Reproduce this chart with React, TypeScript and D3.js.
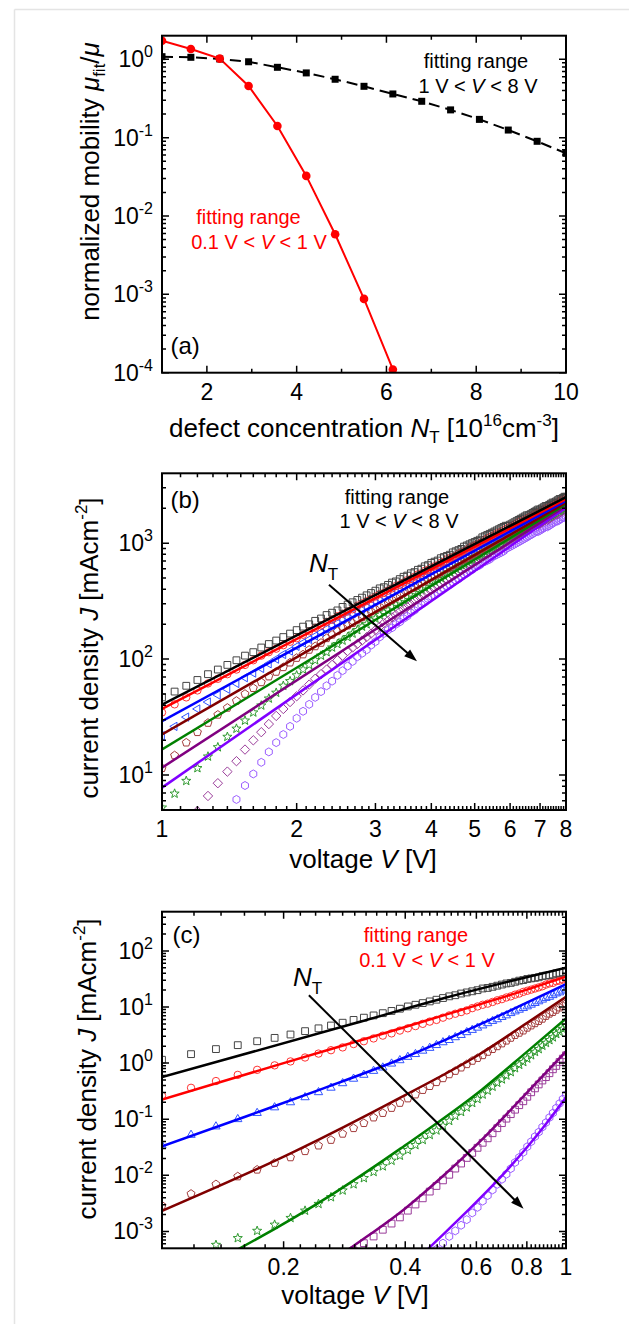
import React from "react";
import * as d3 from "d3";

const W = 629;
const H = 1324;
const FONT = "'Liberation Sans', Arial, Helvetica, sans-serif";

// ---------- panel (a): normalized mobility vs. defect concentration ----------
const nT = [1, 1.643, 2.286, 2.929, 3.571, 4.214, 4.857, 5.5, 6.143, 6.786, 7.429, 8.071, 8.714, 9.357, 10];
// fitting range 1 V < V < 8 V
const muFitHigh = [1.08, 1.06, 1.01, 0.93, 0.79, 0.67, 0.556, 0.452, 0.361, 0.291, 0.226, 0.171, 0.125, 0.0898, 0.063];
// fitting range 0.1 V < V < 1 V (leaves the axis after N_T = 6.1)
const muFitLow = [1.72, 1.35, 1.02, 0.457, 0.141, 0.0325, 0.00585, 0.000875, 0.00011];

// ---------- panel (b): J-V, 1 V .. 8 V ----------
// all current densities below are log10(J / mA cm^-2), read against the decade ticks
const vB = [
  1, 1.067, 1.133, 1.2, 1.267, 1.333, 1.4, 1.467, 1.533, 1.6, 1.667, 1.733, 1.8, 1.867, 1.933,
  2, 2.067, 2.133, 2.2, 2.267, 2.333, 2.4, 2.467, 2.533, 2.6, 2.667, 2.733, 2.8, 2.867, 2.933,
  3, 3.067, 3.133, 3.2, 3.267, 3.333, 3.4, 3.467, 3.533, 3.6, 3.667, 3.733, 3.8, 3.867, 3.933,
  4, 4.067, 4.133, 4.2, 4.267, 4.333, 4.4, 4.467, 4.533, 4.6, 4.667, 4.733, 4.8, 4.867, 4.933,
  5, 5.067, 5.133, 5.2, 5.267, 5.333, 5.4, 5.467, 5.533, 5.6, 5.667, 5.733, 5.8, 5.867, 5.933,
  6, 6.067, 6.133, 6.2, 6.267, 6.333, 6.4, 6.467, 6.533, 6.6, 6.667, 6.733, 6.8, 6.867, 6.933,
  7, 7.067, 7.133, 7.2, 7.267, 7.333, 7.4, 7.467, 7.533, 7.6, 7.667, 7.733, 7.8, 7.867, 7.933,
  8,
];
const bBlack = [
  1.67, 1.72, 1.77, 1.82, 1.87, 1.91, 1.95, 1.99, 2.03, 2.06,
  2.10, 2.13, 2.16, 2.19, 2.22, 2.25, 2.28, 2.30, 2.33, 2.35,
  2.38, 2.40, 2.42, 2.45, 2.47, 2.49, 2.51, 2.53, 2.55, 2.57,
  2.59, 2.61, 2.62, 2.64, 2.66, 2.67, 2.69, 2.71, 2.72, 2.74,
  2.75, 2.77, 2.78, 2.80, 2.81, 2.83, 2.84, 2.85, 2.87, 2.88,
  2.89, 2.90, 2.92, 2.93, 2.94, 2.95, 2.97, 2.98, 2.99, 3.00,
  3.01, 3.02, 3.03, 3.05, 3.06, 3.07, 3.08, 3.09, 3.10, 3.11,
  3.12, 3.13, 3.14, 3.15, 3.15, 3.16, 3.17, 3.18, 3.19, 3.20,
  3.21, 3.22, 3.23, 3.24, 3.24, 3.25, 3.26, 3.27, 3.28, 3.29,
  3.29, 3.30, 3.31, 3.32, 3.32, 3.33, 3.34, 3.35, 3.35, 3.36,
  3.37, 3.38, 3.38, 3.39, 3.40, 3.40,
];
const bRed = [
  1.54, 1.61, 1.67, 1.73, 1.79, 1.83, 1.87, 1.91, 1.95, 1.99,
  2.03, 2.06, 2.09, 2.12, 2.15, 2.18, 2.21, 2.24, 2.27, 2.29,
  2.32, 2.34, 2.37, 2.39, 2.41, 2.43, 2.46, 2.48, 2.50, 2.52,
  2.54, 2.56, 2.57, 2.59, 2.61, 2.63, 2.64, 2.66, 2.68, 2.69,
  2.71, 2.73, 2.74, 2.76, 2.77, 2.79, 2.80, 2.81, 2.83, 2.84,
  2.86, 2.87, 2.88, 2.89, 2.91, 2.92, 2.93, 2.94, 2.96, 2.97,
  2.98, 2.99, 3.00, 3.01, 3.03, 3.04, 3.05, 3.06, 3.07, 3.08,
  3.09, 3.10, 3.11, 3.12, 3.13, 3.14, 3.15, 3.16, 3.17, 3.18,
  3.19, 3.19, 3.20, 3.21, 3.22, 3.23, 3.24, 3.25, 3.26, 3.26,
  3.27, 3.28, 3.29, 3.30, 3.30, 3.31, 3.32, 3.33, 3.34, 3.34,
  3.35, 3.36, 3.37, 3.37, 3.38, 3.39,
];
const bBlue = [
  1.34, 1.42, 1.50, 1.57, 1.63, 1.69, 1.74, 1.79, 1.84, 1.88,
  1.92, 1.96, 2.00, 2.04, 2.07, 2.11, 2.14, 2.17, 2.20, 2.23,
  2.26, 2.29, 2.31, 2.34, 2.36, 2.39, 2.41, 2.43, 2.45, 2.48,
  2.50, 2.52, 2.54, 2.56, 2.58, 2.60, 2.61, 2.63, 2.65, 2.66,
  2.68, 2.70, 2.71, 2.73, 2.75, 2.76, 2.78, 2.79, 2.80, 2.82,
  2.83, 2.85, 2.86, 2.87, 2.89, 2.90, 2.91, 2.93, 2.94, 2.95,
  2.96, 2.98, 2.99, 3.00, 3.01, 3.02, 3.03, 3.04, 3.05, 3.06,
  3.07, 3.08, 3.09, 3.10, 3.11, 3.12, 3.13, 3.14, 3.15, 3.16,
  3.17, 3.18, 3.19, 3.20, 3.21, 3.21, 3.22, 3.23, 3.24, 3.25,
  3.26, 3.26, 3.27, 3.28, 3.29, 3.30, 3.30, 3.31, 3.32, 3.33,
  3.34, 3.34, 3.35, 3.36, 3.36, 3.37,
];
const bBrown = [
  1.06, 1.17, 1.28, 1.37, 1.45, 1.52, 1.58, 1.64, 1.70, 1.75,
  1.80, 1.85, 1.89, 1.93, 1.97, 2.01, 2.04, 2.08, 2.11, 2.14,
  2.18, 2.21, 2.24, 2.27, 2.29, 2.31, 2.34, 2.36, 2.38, 2.41,
  2.43, 2.45, 2.47, 2.49, 2.51, 2.53, 2.55, 2.57, 2.59, 2.61,
  2.62, 2.64, 2.66, 2.67, 2.69, 2.71, 2.72, 2.73, 2.75, 2.77,
  2.78, 2.79, 2.81, 2.82, 2.84, 2.85, 2.86, 2.87, 2.89, 2.90,
  2.91, 2.92, 2.93, 2.95, 2.96, 2.97, 2.98, 2.99, 3.00, 3.01,
  3.02, 3.03, 3.04, 3.05, 3.06, 3.08, 3.09, 3.10, 3.10, 3.11,
  3.13, 3.13, 3.14, 3.15, 3.16, 3.17, 3.18, 3.19, 3.20, 3.20,
  3.21, 3.22, 3.23, 3.24, 3.24, 3.25, 3.26, 3.27, 3.28, 3.29,
  3.29, 3.30, 3.31, 3.32, 3.32, 3.33,
];
const bGreen = [
  0.72, 0.84, 0.95, 1.06, 1.16, 1.24, 1.33, 1.40, 1.47, 1.54,
  1.60, 1.66, 1.71, 1.77, 1.81, 1.86, 1.91, 1.95, 1.99, 2.03,
  2.06, 2.10, 2.13, 2.16, 2.19, 2.22, 2.25, 2.28, 2.30, 2.33,
  2.35, 2.38, 2.40, 2.42, 2.45, 2.47, 2.49, 2.51, 2.53, 2.55,
  2.57, 2.58, 2.60, 2.62, 2.64, 2.66, 2.67, 2.69, 2.70, 2.72,
  2.74, 2.75, 2.77, 2.78, 2.80, 2.81, 2.82, 2.84, 2.85, 2.86,
  2.88, 2.89, 2.90, 2.91, 2.93, 2.94, 2.95, 2.96, 2.97, 2.98,
  2.99, 3.01, 3.02, 3.03, 3.04, 3.05, 3.06, 3.07, 3.08, 3.09,
  3.10, 3.11, 3.12, 3.13, 3.14, 3.15, 3.16, 3.17, 3.17, 3.18,
  3.19, 3.20, 3.21, 3.22, 3.23, 3.23, 3.24, 3.25, 3.26, 3.27,
  3.28, 3.28, 3.29, 3.30, 3.31, 3.32,
];
const bPurple = [
  null, null, null, 0.69, 0.82, 0.93, 1.03, 1.12, 1.22, 1.30,
  1.37, 1.44, 1.51, 1.57, 1.63, 1.68, 1.73, 1.78, 1.83, 1.87,
  1.91, 1.95, 1.99, 2.03, 2.07, 2.10, 2.13, 2.16, 2.19, 2.22,
  2.25, 2.28, 2.31, 2.33, 2.36, 2.38, 2.41, 2.43, 2.45, 2.47,
  2.50, 2.52, 2.54, 2.56, 2.58, 2.60, 2.62, 2.64, 2.65, 2.67,
  2.69, 2.70, 2.72, 2.74, 2.76, 2.77, 2.79, 2.80, 2.82, 2.83,
  2.85, 2.86, 2.87, 2.89, 2.90, 2.91, 2.92, 2.94, 2.95, 2.96,
  2.97, 2.98, 2.99, 3.01, 3.02, 3.03, 3.04, 3.05, 3.06, 3.07,
  3.08, 3.09, 3.10, 3.11, 3.12, 3.13, 3.14, 3.15, 3.16, 3.16,
  3.17, 3.18, 3.19, 3.20, 3.20, 3.21, 3.22, 3.23, 3.24, 3.25,
  3.25, 3.26, 3.27, 3.28, 3.28, 3.29,
];
const bViolet = [
  null, null, null, null, null, null, 0.67, 0.79, 0.91, 1.01,
  1.11, 1.20, 1.28, 1.35, 1.42, 1.49, 1.55, 1.61, 1.67, 1.72,
  1.77, 1.81, 1.86, 1.90, 1.94, 1.98, 2.02, 2.05, 2.08, 2.12,
  2.15, 2.19, 2.22, 2.25, 2.27, 2.30, 2.32, 2.35, 2.37, 2.40,
  2.42, 2.45, 2.47, 2.49, 2.52, 2.54, 2.55, 2.57, 2.59, 2.61,
  2.63, 2.64, 2.66, 2.68, 2.69, 2.71, 2.73, 2.74, 2.76, 2.77,
  2.79, 2.80, 2.81, 2.83, 2.84, 2.85, 2.86, 2.88, 2.89, 2.90,
  2.91, 2.92, 2.93, 2.95, 2.96, 2.97, 2.98, 2.99, 3.00, 3.01,
  3.02, 3.03, 3.04, 3.05, 3.06, 3.07, 3.08, 3.09, 3.10, 3.10,
  3.11, 3.12, 3.13, 3.14, 3.14, 3.15, 3.16, 3.17, 3.18, 3.19,
  3.19, 3.20, 3.21, 3.22, 3.22, 3.23,
];
// straight power-law fits, value at V = 1 and at V = 8
const fitVB = [1, 8];
const fitBBlack = [1.608, 3.396];
const fitBRed = [1.571, 3.379];
const fitBBlue = [1.465, 3.364];
const fitBBrown = [1.35, 3.349];
const fitBGreen = [1.221, 3.336];
const fitBPurple = [1.064, 3.321];
const fitBViolet = [0.892, 3.306];
// N_T arrow, [V, J]
const arrowB = [[2.362, 437], [3.715, 95.7]];

// ---------- panel (c): J-V, 0.1 V .. 1 V ----------
const vC = [
  0.1, 0.118, 0.136, 0.154, 0.172, 0.19, 0.208, 0.226, 0.244, 0.262,
  0.28, 0.298, 0.316, 0.334, 0.352, 0.37, 0.388, 0.406, 0.424, 0.442,
  0.46, 0.478, 0.496, 0.514, 0.532, 0.55, 0.568, 0.586, 0.604, 0.622,
  0.64, 0.658, 0.676, 0.694, 0.712, 0.73, 0.748, 0.766, 0.784, 0.802,
  0.82, 0.838, 0.856, 0.874, 0.892, 0.91, 0.928, 0.946, 0.964, 0.982,
  1.0,
];
const cBlack = [
  0.06, 0.16, 0.25, 0.32, 0.39, 0.45, 0.51, 0.57, 0.62, 0.67,
  0.72, 0.77, 0.81, 0.85, 0.89, 0.93, 0.97, 1.01, 1.04, 1.07,
  1.10, 1.13, 1.16, 1.19, 1.21, 1.24, 1.26, 1.28, 1.30, 1.33,
  1.34, 1.36, 1.38, 1.40, 1.42, 1.43, 1.45, 1.47, 1.48, 1.50,
  1.51, 1.52, 1.53, 1.55, 1.56, 1.57, 1.58, 1.60, 1.61, 1.62,
  1.63,
];
const cRed = [
  -0.58, -0.44, -0.32, -0.21, -0.12, -0.04, 0.03, 0.10, 0.17, 0.23,
  0.28, 0.34, 0.39, 0.44, 0.49, 0.53, 0.58, 0.62, 0.66, 0.70,
  0.74, 0.77, 0.81, 0.85, 0.88, 0.91, 0.94, 0.98, 1.01, 1.04,
  1.06, 1.09, 1.12, 1.14, 1.17, 1.19, 1.22, 1.24, 1.27, 1.29,
  1.31, 1.33, 1.35, 1.37, 1.40, 1.42, 1.43, 1.46, 1.47, 1.49,
  1.51,
];
const cBlue = [
  -1.47, -1.28, -1.13, -1.00, -0.89, -0.79, -0.70, -0.61, -0.52, -0.44,
  -0.36, -0.28, -0.21, -0.14, -0.08, -0.01, 0.05, 0.11, 0.16, 0.22,
  0.27, 0.32, 0.37, 0.41, 0.46, 0.50, 0.55, 0.59, 0.63, 0.67,
  0.71, 0.75, 0.78, 0.82, 0.85, 0.89, 0.92, 0.95, 0.98, 1.01,
  1.04, 1.07, 1.10, 1.13, 1.16, 1.18, 1.21, 1.24, 1.26, 1.29,
  1.31,
];
const cBrown = [
  -2.54, -2.33, -2.16, -2.02, -1.90, -1.78, -1.68, -1.57, -1.47, -1.37,
  -1.26, -1.16, -1.07, -0.97, -0.89, -0.80, -0.71, -0.63, -0.56, -0.48,
  -0.41, -0.34, -0.27, -0.20, -0.14, -0.08, -0.02, 0.04, 0.09, 0.14,
  0.20, 0.25, 0.30, 0.35, 0.40, 0.45, 0.50, 0.54, 0.58, 0.63,
  0.67, 0.71, 0.75, 0.79, 0.84, 0.88, 0.91, 0.95, 0.99, 1.02,
  1.06,
];
const cGreen = [
  null, null, -3.24, -3.12, -2.99, -2.88, -2.76, -2.63, -2.51, -2.39,
  -2.27, -2.16, -2.05, -1.94, -1.84, -1.74, -1.65, -1.55, -1.46, -1.37,
  -1.28, -1.20, -1.12, -1.03, -0.94, -0.87, -0.79, -0.71, -0.64, -0.56,
  -0.49, -0.42, -0.35, -0.29, -0.22, -0.16, -0.09, -0.03, 0.02, 0.08,
  0.14, 0.20, 0.25, 0.31, 0.36, 0.41, 0.46, 0.52, 0.56, 0.61,
  0.66,
];
const cPurple = [
  null, null, null, null, null, null, null, null, null, null,
  null, -3.34, -3.21, -3.09, -2.97, -2.86, -2.75, -2.63, -2.52, -2.41,
  -2.29, -2.19, -2.09, -1.99, -1.88, -1.79, -1.69, -1.60, -1.51, -1.42,
  -1.34, -1.25, -1.16, -1.07, -0.99, -0.91, -0.83, -0.75, -0.68, -0.60,
  -0.52, -0.45, -0.38, -0.31, -0.25, -0.18, -0.11, -0.05, 0.02, 0.08,
  0.14,
];
const cViolet = [
  null, null, null, null, null, null, null, null, null, null,
  null, null, null, null, null, null, null, null, null, null,
  null, -3.32, -3.21, -3.09, -2.99, -2.89, -2.79, -2.67, -2.57, -2.46,
  -2.36, -2.26, -2.16, -2.07, -1.98, -1.88, -1.77, -1.68, -1.59, -1.49,
  -1.40, -1.31, -1.23, -1.14, -1.06, -0.97, -0.89, -0.80, -0.72, -0.64,
  -0.56,
];
// fitted curves (V, log10 J)
const fitCBlackV = [0.1, 0.3, 0.5, 0.7, 1.0];
const fitCBlack = [-0.25, 0.71, 1.16, 1.43, 1.7];
const fitCRedV = [0.1, 0.2, 0.4, 0.6, 0.8, 1.0];
const fitCRed = [-0.65, 0.0, 0.645, 1.03, 1.31, 1.54];
const fitCBlueV = [0.1, 0.16, 0.25, 0.4, 0.63, 1.0];
const fitCBlue = [-1.485, -0.96, -0.455, 0.105, 0.73, 1.406];
const fitCBrownV = [0.1, 0.21, 0.39, 0.62, 0.8, 1.0];
const fitCBrown = [-2.635, -1.595, -0.61, 0.185, 0.715, 1.18];
const fitCGreenV = [0.14, 0.155, 0.265, 0.39, 0.62, 0.8, 1.0];
const fitCGreen = [-3.48, -3.31, -2.33, -1.52, -0.47, 0.2, 0.794];
const fitCPurpleV = [0.275, 0.29, 0.4, 0.5, 0.63, 0.79, 1.0];
const fitCPurple = [-3.44, -3.32, -2.59, -1.99, -1.31, -0.57, 0.21];
const fitCVioletV = [0.44, 0.456, 0.562, 0.708, 0.891, 1.0];
const fitCViolet = [-3.42, -3.31, -2.68, -1.94, -1.09, -0.61];
const arrowC = [[0.231, 16.2], [0.785, 0.00254]];

// ---------- styling ----------
const LINE = { black: "#000000", red: "#ff0000", blue: "#0000ff", brown: "#800000", green: "#008000", purple: "#800080", violet: "#8000ff" };
const MARK = { black: "#444444", red: "#ff3333", blue: "#3355ff", brown: "#a33c3c", green: "#2f9a2f", purple: "#9a3c9a", violet: "#9a5cff" };

function polygon(n: number, r: number, rot: number) {
  const p: string[] = [];
  for (let i = 0; i < n; i++) {
    const a = rot + (i * 2 * Math.PI) / n;
    p.push(`${(r * Math.sin(a)).toFixed(2)},${(-r * Math.cos(a)).toFixed(2)}`);
  }
  return "M" + p.join("L") + "Z";
}
function starPath(ro: number, ri: number) {
  const p: string[] = [];
  for (let i = 0; i < 10; i++) {
    const r = i % 2 ? ri : ro;
    const a = (i * Math.PI) / 5;
    p.push(`${(r * Math.sin(a)).toFixed(2)},${(-r * Math.cos(a)).toFixed(2)}`);
  }
  return "M" + p.join("L") + "Z";
}
const SHAPES: Record<string, string> = {
  square: "M-3.4,-3.4H3.4V3.4H-3.4Z",
  circle: d3.symbol().type(d3.symbolCircle).size(Math.PI * 3.7 * 3.7)() as string,
  triUp: polygon(3, 4.8, 0),
  triLeft: polygon(3, 4.8, -Math.PI / 2),
  pentagon: polygon(5, 4.2, 0),
  star: starPath(4.8, 2.0),
  diamond: polygon(4, 4.7, 0),
  hexagon: polygon(6, 4.0, 0),
};

function logMinor(lo: number, hi: number) {
  const out: number[] = [];
  for (let k = Math.floor(Math.log10(lo)); k <= Math.ceil(Math.log10(hi)); k++)
    for (let m = 2; m <= 9; m++) {
      const t = m * 10 ** k;
      if (t > lo * 1.0001 && t < hi * 0.9999) out.push(t);
    }
  return out;
}

type Box = { x0: number; x1: number; y0: number; y1: number };
type Sc = (v: number) => number;

function Frame({ box, x, y, xMaj, xMin, yMaj, yMin }: { box: Box; x: Sc; y: Sc; xMaj: number[]; xMin: number[]; yMaj: number[]; yMin: number[] }) {
  const { x0, x1, y0, y1 } = box;
  const LM = 7;
  const Lm = 4;
  const s: string[] = [];
  xMaj.forEach((t) => { const p = x(t); s.push(`M${p},${y1}v${-LM}M${p},${y0}v${LM}`); });
  xMin.forEach((t) => { const p = x(t); s.push(`M${p},${y1}v${-Lm}M${p},${y0}v${Lm}`); });
  yMaj.forEach((t) => { const p = y(t); s.push(`M${x0},${p}h${LM}M${x1},${p}h${-LM}`); });
  yMin.forEach((t) => { const p = y(t); s.push(`M${x0},${p}h${Lm}M${x1},${p}h${-Lm}`); });
  return (
    <g>
      <path d={s.join("")} stroke="#000" strokeWidth={1.5} fill="none" />
      <rect x={x0} y={y0} width={x1 - x0} height={y1 - y0} fill="none" stroke="#000" strokeWidth={2} />
    </g>
  );
}

function Pow({ x, y, e }: { x: number; y: number; e: string }) {
  return (
    <text x={x} y={y} textAnchor="end" fontSize={23}>
      10<tspan dy={-10} fontSize={16}>{e}</tspan>
    </text>
  );
}

function Arrow({ p0, p1 }: { p0: number[]; p1: number[] }) {
  const [xa, ya] = p0;
  const [xb, yb] = p1;
  const L = Math.hypot(xb - xa, yb - ya);
  const ux = (xb - xa) / L;
  const uy = (yb - ya) / L;
  const hl = 13;
  const hw = 4.5;
  const bx = xb - ux * hl;
  const by = yb - uy * hl;
  return (
    <g>
      <line x1={xa} y1={ya} x2={bx + ux * 2} y2={by + uy * 2} stroke="#000" strokeWidth={2} />
      <path d={`M${xb},${yb}L${bx - uy * hw},${by + ux * hw}L${bx + uy * hw},${by - ux * hw}Z`} fill="#000" />
    </g>
  );
}

function Markers({ v, e, x, y, shape, color }: { v: number[]; e: (number | null)[]; x: Sc; y: Sc; shape: string; color: string }) {
  return (
    <g fill="none" stroke={color} strokeWidth={1}>
      {e.map((val, i) =>
        val === null ? null : (
          <path key={i} d={SHAPES[shape]} transform={`translate(${x(v[i]).toFixed(2)},${y(10 ** val).toFixed(2)})`} />
        )
      )}
    </g>
  );
}

function PanelA() {
  const box = { x0: 162, x1: 566, y0: 35.7, y1: 372.7 };
  const x = d3.scaleLinear().domain([1, 10]).range([box.x0, box.x1]);
  const y = d3.scaleLog().domain([1e-4, 2]).range([box.y1, box.y0]);
  const hi = nT.map((n, i) => [n, muFitHigh[i]] as [number, number]);
  const lo = muFitLow.map((m, i) => [nT[i], m] as [number, number]);
  const line = d3.line<[number, number]>().x((d) => x(d[0])).y((d) => y(d[1]));
  const yMaj = [1e-4, 1e-3, 1e-2, 1e-1, 1];
  return (
    <g>
      <defs>
        <clipPath id="clipA">
          <rect x={box.x0} y={box.y0} width={box.x1 - box.x0} height={box.y1 - box.y0} />
        </clipPath>
      </defs>
      <g clipPath="url(#clipA)">
        <path d={line(hi) as string} fill="none" stroke="#000" strokeWidth={2} strokeDasharray="11,6" />
        <path d={line(lo) as string} fill="none" stroke="#ff0000" strokeWidth={2} />
        {hi.map((d, i) => (
          <rect key={i} x={x(d[0]) - 3.5} y={y(d[1]) - 3.5} width={7} height={7} fill="#000" />
        ))}
        {lo.map((d, i) => (
          <circle key={i} cx={x(d[0])} cy={y(d[1])} r={4.3} fill="#ff0000" />
        ))}
      </g>
      <Frame box={box} x={x} y={y} xMaj={[2, 4, 6, 8, 10]} xMin={[1, 3, 5, 7, 9]} yMaj={yMaj} yMin={logMinor(1e-4, 2)} />
      {[2, 4, 6, 8, 10].map((t) => (
        <text key={t} x={x(t)} y={box.y1 + 27} textAnchor="middle" fontSize={23}>{t}</text>
      ))}
      {yMaj.map((t) => (
        <Pow key={t} x={153} y={y(t) + 8} e={String(Math.round(Math.log10(t)))} />
      ))}
      <text x={364} y={436.7} textAnchor="middle" fontSize={26}>
        defect concentration <tspan fontStyle="italic">N</tspan>
        <tspan fontSize={17} dy={6}>T</tspan>
        <tspan dy={-6}> [10</tspan>
        <tspan fontSize={17} dy={-11}>16</tspan>
        <tspan dy={11}>cm</tspan>
        <tspan fontSize={17} dy={-11}>-3</tspan>
        <tspan dy={11}>]</tspan>
      </text>
      <text transform="translate(98.5,181.5) rotate(-90)" textAnchor="middle" fontSize={26}>
        normalized mobility <tspan fontStyle="italic">μ</tspan>
        <tspan fontSize={17} dy={6}>fit</tspan>
        <tspan dy={-6}>/</tspan>
        <tspan fontStyle="italic">μ</tspan>
      </text>
      <text x={476} y={68} textAnchor="middle" fontSize={20}>fitting range</text>
      <text x={478} y={93} textAnchor="middle" fontSize={20}>
        {"1 V < "}<tspan fontStyle="italic">V</tspan>{" < 8 V"}
      </text>
      <text x={248.5} y={224} textAnchor="middle" fontSize={20} fill="#ff0000">fitting range</text>
      <text x={259} y={249} textAnchor="middle" fontSize={20} fill="#ff0000">
        {"0.1 V < "}<tspan fontStyle="italic">V</tspan>{" < 1 V"}
      </text>
      <text x={170.5} y={354} fontSize={24}>(a)</text>
    </g>
  );
}

function PanelB() {
  const box = { x0: 162, x1: 566, y0: 473.3, y1: 810 };
  const x = d3.scaleLog().domain([1, 8]).range([box.x0, box.x1]);
  const y = d3.scaleLog().domain([5, 4000]).range([box.y1, box.y0]);
  const series = [
    { e: bViolet, fit: fitBViolet, key: "violet", shape: "hexagon" },
    { e: bPurple, fit: fitBPurple, key: "purple", shape: "diamond" },
    { e: bGreen, fit: fitBGreen, key: "green", shape: "star" },
    { e: bBrown, fit: fitBBrown, key: "brown", shape: "pentagon" },
    { e: bBlue, fit: fitBBlue, key: "blue", shape: "triLeft" },
    { e: bRed, fit: fitBRed, key: "red", shape: "circle" },
    { e: bBlack, fit: fitBBlack, key: "black", shape: "square" },
  ];
  const line = d3.line<number>().x((_, i) => x(fitVB[i])).y((d) => y(10 ** d));
  const xMaj = [1, 2, 3, 4, 5, 6, 7, 8];
  const xMin = d3.range(11, 80).filter((i) => i % 10 !== 0).map((i) => i / 10);
  const yMaj = [10, 100, 1000];
  return (
    <g>
      <defs>
        <clipPath id="clipB">
          <rect x={box.x0} y={box.y0} width={box.x1 - box.x0} height={box.y1 - box.y0} />
        </clipPath>
      </defs>
      <g clipPath="url(#clipB)">
        {series.map((s) => (
          <Markers key={s.key} v={vB} e={s.e} x={x} y={y} shape={s.shape} color={(MARK as any)[s.key]} />
        ))}
        {series.map((s) => (
          <path key={s.key} d={line(s.fit) as string} fill="none" stroke={(LINE as any)[s.key]} strokeWidth={2.5} />
        ))}
      </g>
      <Arrow p0={[x(arrowB[0][0]), y(arrowB[0][1])]} p1={[x(arrowB[1][0]), y(arrowB[1][1])]} />
      <Frame box={box} x={x} y={y} xMaj={xMaj} xMin={xMin} yMaj={yMaj} yMin={logMinor(5, 4000)} />
      {xMaj.map((t) => (
        <text key={t} x={x(t)} y={box.y1 + 27} textAnchor="middle" fontSize={23}>{t}</text>
      ))}
      {yMaj.map((t) => (
        <Pow key={t} x={153} y={y(t) + 8} e={String(Math.round(Math.log10(t)))} />
      ))}
      <text x={363} y={867.7} textAnchor="middle" fontSize={26}>
        {"voltage "}<tspan fontStyle="italic">V</tspan>{" [V]"}
      </text>
      <text transform="translate(98,648) rotate(-90)" textAnchor="middle" fontSize={26}>
        current density <tspan fontStyle="italic">J</tspan>
        <tspan> [mAcm</tspan>
        <tspan fontSize={17} dy={-11}>-2</tspan>
        <tspan dy={11}>]</tspan>
      </text>
      <text x={397} y={504} textAnchor="middle" fontSize={20}>fitting range</text>
      <text x={399} y={528} textAnchor="middle" fontSize={20}>
        {"1 V < "}<tspan fontStyle="italic">V</tspan>{" < 8 V"}
      </text>
      <text x={309} y={572} fontSize={26}>
        <tspan fontStyle="italic">N</tspan>
        <tspan fontSize={17} dy={8}>T</tspan>
      </text>
      <text x={170.5} y={508} fontSize={24}>(b)</text>
    </g>
  );
}

function PanelC() {
  const box = { x0: 162, x1: 566, y0: 911.7, y1: 1248.3 };
  const x = d3.scaleLog().domain([0.1, 1]).range([box.x0, box.x1]);
  const y = d3.scaleLog().domain([5e-4, 500]).range([box.y1, box.y0]);
  const series = [
    { e: cViolet, fv: fitCVioletV, fe: fitCViolet, key: "violet", shape: "hexagon" },
    { e: cPurple, fv: fitCPurpleV, fe: fitCPurple, key: "purple", shape: "square" },
    { e: cGreen, fv: fitCGreenV, fe: fitCGreen, key: "green", shape: "star" },
    { e: cBrown, fv: fitCBrownV, fe: fitCBrown, key: "brown", shape: "pentagon" },
    { e: cBlue, fv: fitCBlueV, fe: fitCBlue, key: "blue", shape: "triUp" },
    { e: cRed, fv: fitCRedV, fe: fitCRed, key: "red", shape: "circle" },
    { e: cBlack, fv: fitCBlackV, fe: fitCBlack, key: "black", shape: "square" },
  ];
  const xMaj = [0.2, 0.4, 0.6, 0.8, 1];
  const xMin = d3.range(6, 50).filter((i) => i % 10 !== 0).map((i) => i / 50);
  const yMaj = [1e-3, 1e-2, 1e-1, 1, 10, 100];
  return (
    <g>
      <defs>
        <clipPath id="clipC">
          <rect x={box.x0} y={box.y0} width={box.x1 - box.x0} height={box.y1 - box.y0} />
        </clipPath>
      </defs>
      <g clipPath="url(#clipC)">
        {series.map((s) => (
          <Markers key={s.key} v={vC} e={s.e} x={x} y={y} shape={s.shape} color={(MARK as any)[s.key]} />
        ))}
        {series.map((s) => {
          const line = d3.line<number>().x((_, i) => x(s.fv[i])).y((d) => y(10 ** d)).curve(d3.curveMonotoneX);
          return <path key={s.key} d={line(s.fe) as string} fill="none" stroke={(LINE as any)[s.key]} strokeWidth={2.5} />;
        })}
      </g>
      <Arrow p0={[x(arrowC[0][0]), y(arrowC[0][1])]} p1={[x(arrowC[1][0]), y(arrowC[1][1])]} />
      <Frame box={box} x={x} y={y} xMaj={xMaj} xMin={xMin} yMaj={yMaj} yMin={logMinor(5e-4, 500)} />
      {xMaj.map((t) => (
        <text key={t} x={x(t)} y={box.y1 + 27} textAnchor="middle" fontSize={23}>{t}</text>
      ))}
      {yMaj.map((t) => (
        <Pow key={t} x={153} y={y(t) + 8} e={String(Math.round(Math.log10(t)))} />
      ))}
      <text x={355} y={1304} textAnchor="middle" fontSize={26}>
        {"voltage "}<tspan fontStyle="italic">V</tspan>{" [V]"}
      </text>
      <text transform="translate(95.5,1069) rotate(-90)" textAnchor="middle" fontSize={26}>
        current density <tspan fontStyle="italic">J</tspan>
        <tspan> [mAcm</tspan>
        <tspan fontSize={17} dy={-11}>-2</tspan>
        <tspan dy={11}>]</tspan>
      </text>
      <text x={416} y={942} textAnchor="middle" fontSize={20} fill="#ff0000">fitting range</text>
      <text x={427} y={967} textAnchor="middle" fontSize={20} fill="#ff0000">
        {"0.1 V < "}<tspan fontStyle="italic">V</tspan>{" < 1 V"}
      </text>
      <text x={293} y={986} fontSize={26}>
        <tspan fontStyle="italic">N</tspan>
        <tspan fontSize={17} dy={8}>T</tspan>
      </text>
      <text x={172.5} y={943} fontSize={24}>(c)</text>
    </g>
  );
}

export default function App() {
  return (
    <div style={{ position: "absolute", left: 0, top: 0, width: W, height: H, background: "#fff" }}>
      <svg width={W} height={H} viewBox={`0 0 ${W} ${H}`} style={{ display: "block", fontFamily: FONT }}>
        <line x1={14.5} y1={9.5} x2={W} y2={9.5} stroke="#e4e4e4" strokeWidth={1.5} />
        <line x1={14.5} y1={9.5} x2={14.5} y2={H} stroke="#e4e4e4" strokeWidth={1.5} />
        <PanelA />
        <PanelB />
        <PanelC />
      </svg>
    </div>
  );
}
